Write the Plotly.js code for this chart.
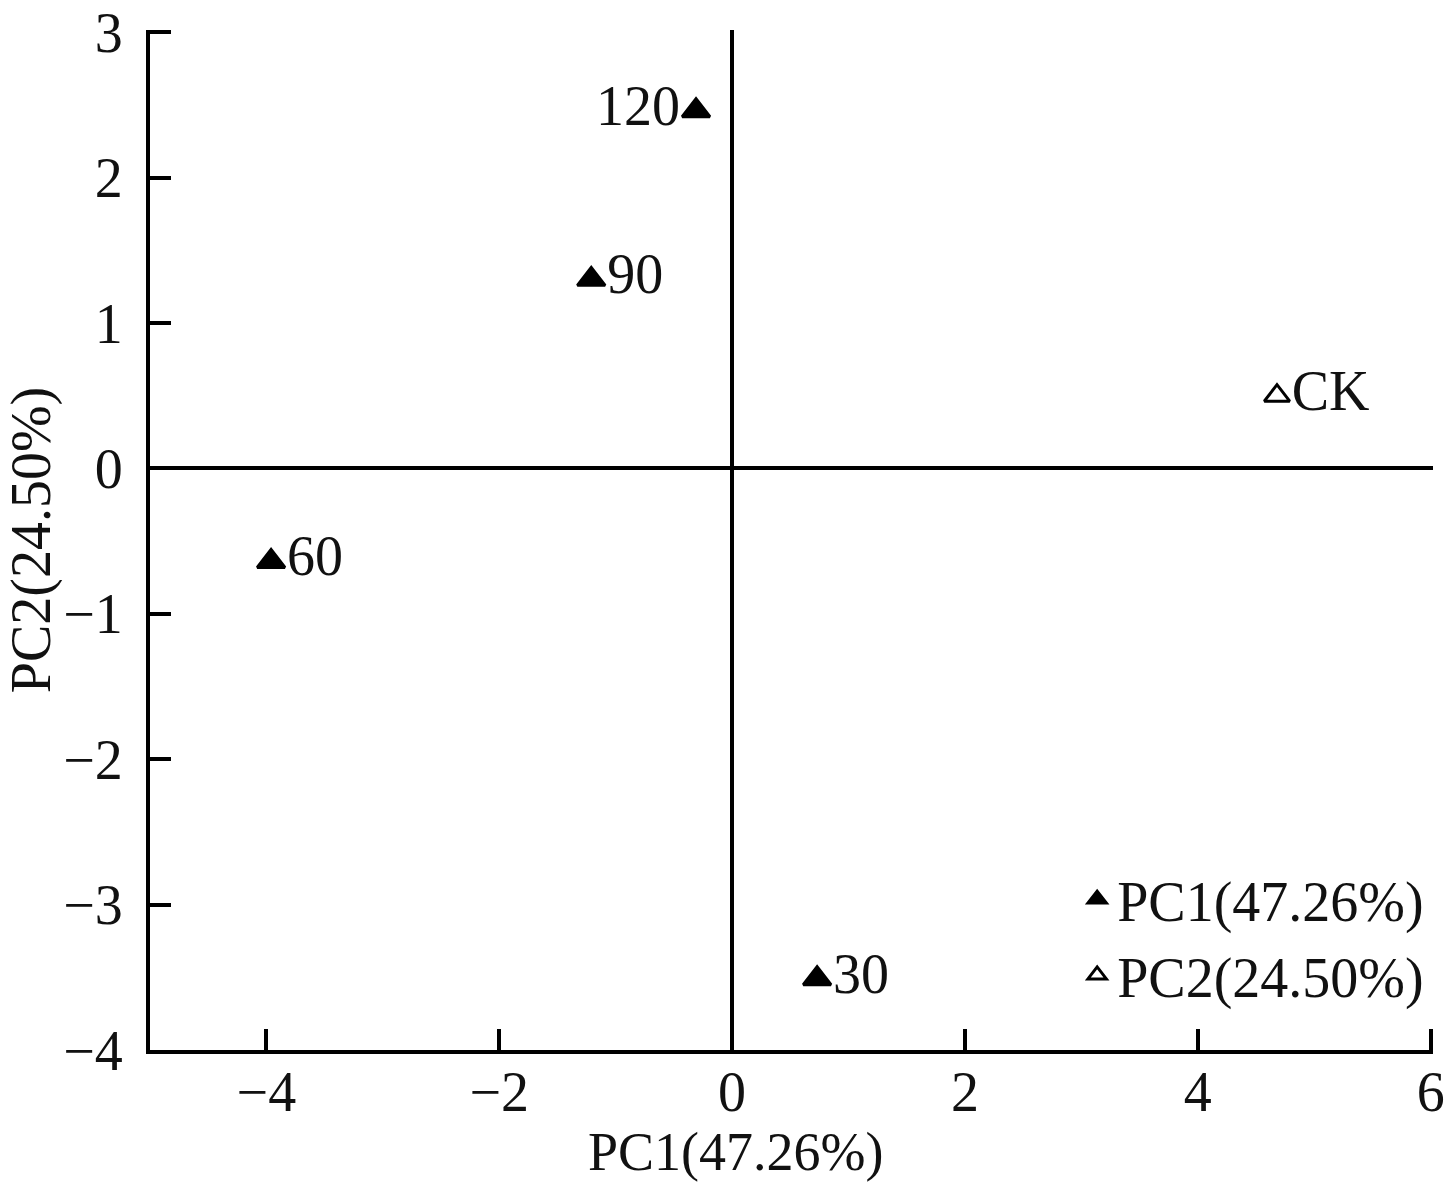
<!DOCTYPE html>
<html>
<head>
<meta charset="utf-8">
<script src="https://cdn.plot.ly/plotly-3.0.1.min.js"></script>
<style>body{margin:0;background:#fff}#chart{width:1444px;height:1188px}</style>
</head>
<body>
<div id="chart"></div>
<script>
// Filled triangles (treatments)
const pc1Labels = ["120", "90", "60", "30"];
const pc1X = [-0.31, -1.21, -3.96, 0.73];
const pc1Y = [2.46, 1.30, -0.64, -3.51];
const pc1TextPos = ["middle left", "middle right", "middle right", "middle right"];
// Open triangle (control)
const pc2Labels = ["CK"];
const pc2X = [4.68];
const pc2Y = [0.50];
const seriesNames = ["PC1(47.26%)", "PC2(24.50%)"];
const xTicks = [-4, -2, 0, 2, 4, 6];
const yTicks = [-4, -3, -2, -1, 0, 1, 2, 3];
const xTitle = "PC1(47.26%)";
const yTitle = "PC2(24.50%)";

const FONT = "Liberation Serif, DejaVu Serif, serif";
const FS = 56;
const traces = [
  {
    x: pc1X, y: pc1Y, text: pc1Labels, name: seriesNames[0],
    mode: "markers+text", type: "scatter", textposition: pc1TextPos,
    marker: {symbol: "triangle-up", size: 24, color: "#000", line: {color: "#000", width: 3}},
    textfont: {family: FONT, size: FS, color: "#111"}
  },
  {
    x: pc2X, y: pc2Y, text: pc2Labels, name: seriesNames[1],
    mode: "markers+text", type: "scatter", textposition: "middle right",
    marker: {symbol: "triangle-up-open", size: 22, color: "#000", line: {color: "#000", width: 3}},
    textfont: {family: FONT, size: FS, color: "#111"}
  }
];
const axisCommon = {
  showgrid: false, zeroline: true, zerolinecolor: "#000", zerolinewidth: 4,
  showline: true, linecolor: "#000", linewidth: 4, mirror: false,
  ticks: "inside", ticklen: 21, tickwidth: 4, tickcolor: "#000",
  ticklabeloverflow: "allow",
  tickfont: {family: FONT, size: FS, color: "#111"}
};
const layout = {
  width: 1444, height: 1188,
  margin: {l: 150, r: 11, t: 30, b: 138},
  paper_bgcolor: "#fff", plot_bgcolor: "#fff",
  showlegend: true,
  legend: {
    x: 0.997, y: 0.19, xanchor: "right", yanchor: "top",
    font: {family: FONT, size: FS, color: "#111"},
    bgcolor: "rgba(0,0,0,0)", tracegroupgap: 0, itemwidth: 30
  },
  xaxis: Object.assign({}, axisCommon, {
    range: [-5, 6.02], tickvals: xTicks, ticklabelstandoff: -10
  }),
  yaxis: Object.assign({}, axisCommon, {
    range: [-4, 3.015], tickvals: yTicks, ticklabelstandoff: 12,
    title: {text: yTitle, font: {family: FONT, size: FS, color: "#111"}, standoff: 14}
  }),
  annotations: [{
    text: xTitle, xref: "paper", yref: "paper", x: 0.457, y: -0.10,
    xanchor: "center", yanchor: "middle", showarrow: false,
    font: {family: FONT, size: 54, color: "#111"}
  }]
};
Plotly.newPlot("chart", traces, layout, {displayModeBar: false});
</script>
</body>
</html>
